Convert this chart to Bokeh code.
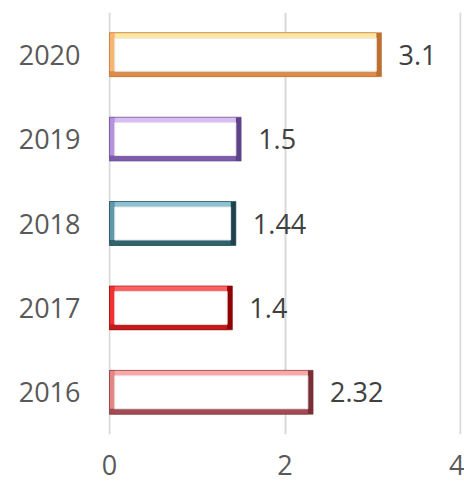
from bokeh.plotting import figure
from bokeh.models import ColumnDataSource, FactorRange, Range1d, FixedTicker
from bokeh.transform import dodge
from bokeh.embed import file_html
from bokeh.resources import INLINE
from bokeh.core.properties import value

years = ["2016", "2017", "2018", "2019", "2020"]
values = [2.32, 1.4, 1.44, 1.5, 3.1]
labels = ["2.32", "1.4", "1.44", "1.5", "3.1"]
x_ticks = [0, 2, 4]

c_top = ["#F7A8A8", "#FF6060", "#8CC2D2", "#D9BCF2", "#FFE7A0"]
c_left = ["#E48686", "#F23030", "#5E9AAE", "#B692DE", "#F8B56E"]
c_bottom = ["#A34A52", "#C41A1A", "#30626F", "#7C5CA8", "#DB8B4B"]
c_right = ["#7A2E35", "#900000", "#1D424D", "#5D4387", "#BE7030"]

FONT = "Open Sans"
H = 0.52      # bar thickness (category units)
BX = 0.06     # bevel width in x data units
BY = 0.065    # bevel width in category units

src = ColumnDataSource(dict(
    year=years, val=values, lab=labels,
    val_in=[v - BX for v in values],
    c_top=c_top, c_left=c_left, c_bottom=c_bottom, c_right=c_right,
))

p = figure(width=464, height=488, y_range=FactorRange(*years, range_padding=0),
           x_range=Range1d(-0.012, 4.012), output_backend="svg", toolbar_location=None,
           min_border_left=108, min_border_right=3, min_border_top=12, min_border_bottom=54)
p.outline_line_color = None
p.background_fill_color = "white"

# bevelled bars
p.hbar(y="year", left=0, right="val", height=H, source=src,
       fill_color="c_right", line_color=None)
p.hbar(y="year", left=0, right="val_in", height=H, source=src,
       fill_color="c_bottom", line_color=None)
p.hbar(y=dodge("year", BY / 2, range=p.y_range), left=0, right="val_in", height=H - BY,
       source=src, fill_color="c_left", line_color=None)
p.hbar(y=dodge("year", BY / 2, range=p.y_range), left=BX, right="val_in", height=H - BY,
       source=src, fill_color="c_top", line_color=None)
p.hbar(y="year", left=BX, right="val_in", height=H - 2 * BY, source=src,
       fill_color="white", line_color="#E6E6E6", line_width=1)
p.hbar(y="year", left=0, right="val", height=H, source=src,
       fill_color=None, line_color="c_right", line_width=1, line_alpha=0.6)

p.text(x="val", y="year", text="lab", source=src, x_offset=17,
       text_font=value(FONT), text_font_size="27px", text_color="#404040",
       text_baseline="middle", text_align="left")

p.xgrid.grid_line_color = "#D9D9D9"
p.xgrid.grid_line_width = 2
p.ygrid.grid_line_color = None
p.xaxis.ticker = FixedTicker(ticks=x_ticks)

for ax in (p.xaxis, p.yaxis):
    ax.axis_line_color = None
    ax.major_tick_line_color = None
    ax.minor_tick_line_color = None
    ax.major_tick_out = 0
    ax.major_tick_in = 0
    ax.major_label_text_font = FONT
    ax.major_label_text_font_size = "27px"
    ax.major_label_text_color = "#595959"
p.yaxis.major_label_standoff = 28
p.xaxis.major_label_standoff = 20

open("out.html", "w").write(file_html(p, INLINE))
